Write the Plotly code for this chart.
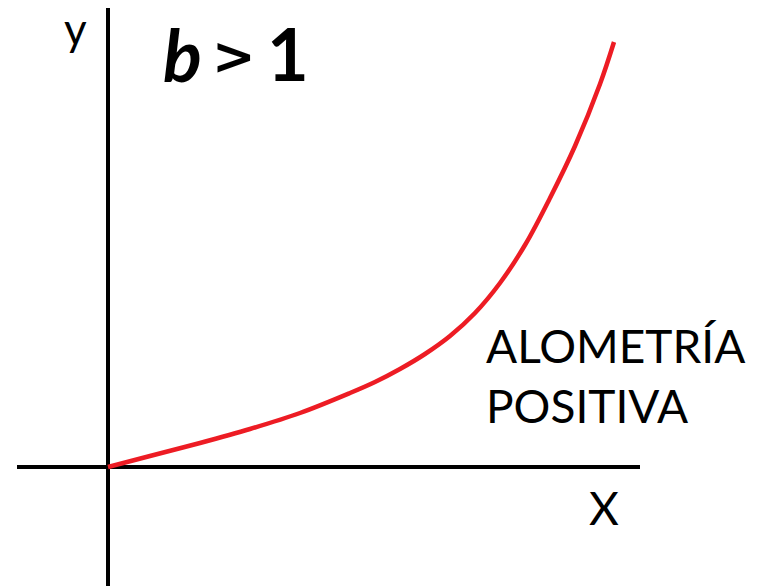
import plotly.graph_objects as go

# Curve of positive allometry (y grows faster than x), in axis units
curve_x = [0, 42, 92, 142, 192, 242, 267, 292, 317, 342, 367, 392, 417, 442, 467, 492, 506]
curve_y = [0, 11, 24, 38, 54, 74, 85, 98, 113, 131, 154, 184, 222, 269, 321, 383, 425]

# Axis extents (coordinate cross)
x_axis_span = [-91, 532]
y_axis_span = [-119, 459]

# Labels
y_label = "y"
x_label = "X"
exponent_symbol = "<b><i>b</i></b>"
relation_symbol = "<b>&gt;</b>"
threshold_value = "<b>1</b>"
curve_label = "ALOMETRÍA<br>POSITIVA"

fig = go.Figure()

fig.add_trace(go.Scatter(
    x=curve_x, y=curve_y, mode="lines",
    line=dict(color="#ed1c24", width=4.5, shape="spline", smoothing=1.0),
    hoverinfo="skip", showlegend=False,
))

# Coordinate cross
fig.add_shape(type="line", x0=x_axis_span[0], x1=x_axis_span[1], y0=0, y1=0,
              line=dict(color="black", width=4), layer="below")
fig.add_shape(type="line", x0=0, x1=0, y0=y_axis_span[0], y1=y_axis_span[1],
              line=dict(color="black", width=4), layer="below")

font_family = "Lato, 'Open Sans', sans-serif"

# Axis names
fig.add_annotation(x=-33, xref="x", y=1, yref="paper", text=y_label, showarrow=False,
                   font=dict(family=font_family, size=44, color="black"),
                   xanchor="center", yanchor="top")
fig.add_annotation(x=496, y=-40, text=x_label, showarrow=False,
                   font=dict(family=font_family, size=46, color="black"),
                   xanchor="center", yanchor="middle")

# "b > 1" title, placed piece by piece
fig.add_annotation(x=74, y=413, text=exponent_symbol, showarrow=False,
                   font=dict(family=font_family, size=72, color="black"),
                   xanchor="center", yanchor="middle")
fig.add_annotation(x=126, y=411, text=relation_symbol, showarrow=False,
                   font=dict(family="'DejaVu Sans', sans-serif", size=52, color="black"),
                   xanchor="center", yanchor="middle")
fig.add_annotation(x=180, y=414, text=threshold_value, showarrow=False,
                   font=dict(family=font_family, size=72, color="black"),
                   xanchor="center", yanchor="middle")

fig.add_annotation(x=376, y=92, text=curve_label, showarrow=False, align="left",
                   font=dict(family=font_family, size=46, color="black"),
                   xanchor="left", yanchor="middle")

fig.update_layout(
    width=759, height=586,
    margin=dict(l=0, r=0, t=0, b=0),
    paper_bgcolor="white", plot_bgcolor="white",
    xaxis=dict(range=[-108, 651], visible=False, fixedrange=True),
    yaxis=dict(range=[-119, 467], visible=False, fixedrange=True),
)

fig.write_html("out.html")
